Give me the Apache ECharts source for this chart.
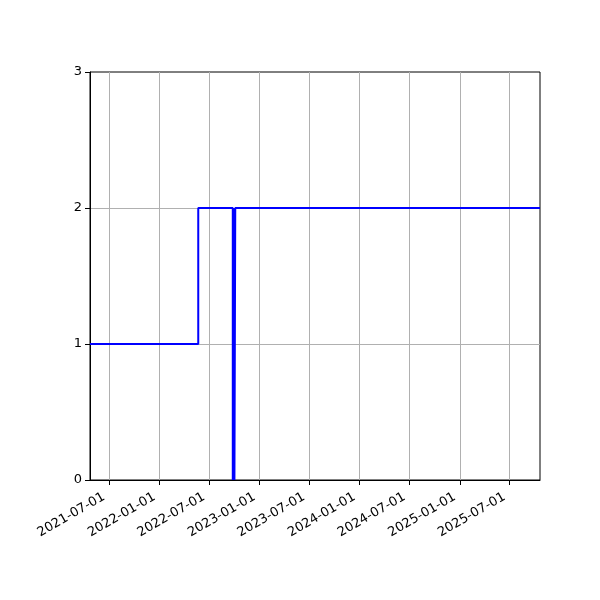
<!DOCTYPE html>
<html><head><meta charset="utf-8">
<script src="https://cdn.jsdelivr.net/npm/echarts@6/dist/echarts.min.js"></script>
<style>html,body{margin:0;padding:0;background:#fff}#c{width:600px;height:600px}</style>
</head><body><div id="c"></div>
<script>
const dates = ['2021-04-22','2022-05-22','2022-09-25','2022-09-27','2022-09-28','2022-09-30','2022-10-01','2022-10-04','2025-10-20'];
const values = [1, 2, 0, 2, 0, 2, 0, 2, 2];
const tickDates = ['2021-07-01','2022-01-01','2022-07-01','2023-01-01','2023-07-01','2024-01-01','2024-07-01','2025-01-01','2025-07-01'];
const yTicks = [0, 1, 2, 3];

function ts(s){ const p = s.split('-').map(Number); return Date.UTC(p[0], p[1]-1, p[2]); }
function pad(n){ return (n<10?'0':'')+n; }
function fmt(v){ const d = new Date(v); return d.getUTCFullYear()+'-'+pad(d.getUTCMonth()+1)+'-'+pad(d.getUTCDate()); }

const chart = echarts.init(document.getElementById('c'));
chart.setOption({
  animation: false,
  grid: {left: 90, right: 60, top: 72, bottom: 120, show: true, borderColor: '#000', borderWidth: 1, backgroundColor: 'transparent'},
  xAxis: {
    type: 'value', min: ts(dates[0]), max: ts(dates[dates.length-1]),
    axisLine: {show: true, lineStyle: {color: '#000', width: 1}},
    axisTick: {show: true, length: 5, lineStyle: {color: '#000'}, customValues: tickDates.map(ts)},
    axisLabel: {rotate: 30, fontSize: 13, color: '#000', fontFamily: 'DejaVu Sans', margin: 13,
      padding: [0, 6, 0, 0], customValues: tickDates.map(ts), formatter: fmt},
    splitLine: {show: true, lineStyle: {color: '#b0b0b0', width: 1}}
  },
  yAxis: {
    type: 'value', min: yTicks[0], max: yTicks[yTicks.length-1], interval: 1,
    axisLine: {show: true, lineStyle: {color: '#000', width: 1}},
    axisTick: {show: true, length: 5, lineStyle: {color: '#000'}},
    axisLabel: {fontSize: 13, color: '#000', fontFamily: 'DejaVu Sans', margin: 8},
    splitLine: {show: true, showMaxLine: false, showMinLine: false, lineStyle: {color: '#b0b0b0', width: 1}}
  },
  series: [{
    type: 'line', step: 'end', showSymbol: false, symbol: 'none',
    data: dates.map((d,i)=>[ts(d), values[i]]),
    lineStyle: {color: '#0000ff', width: 2},
    clip: true
  }]
});
</script></body></html>
